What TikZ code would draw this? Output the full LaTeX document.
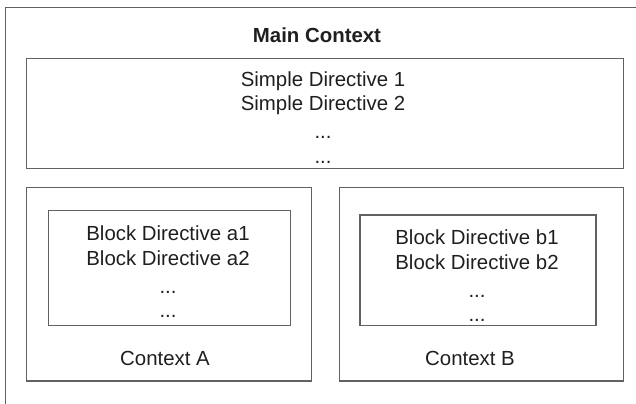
\documentclass[tikz,border=0pt]{standalone}
\usepackage{fontspec}
\setmainfont{Liberation Sans}

\begin{document}
\begin{tikzpicture}[x=0.5pt, y=-0.5pt,
    ctxbox/.style={draw=black!62, line width=0.65pt, inner sep=0pt},
    dirtext/.style={align=center, text=black!88, font=\fontsize{10.2}{12.25}\selectfont},
    ctxlabel/.style={text=black!88, font=\fontsize{10.2}{12.25}\selectfont}]
    \useasboundingbox (0,0) rectangle (636,403);
    \clip (0,0) rectangle (636,403);

    % outer frame, cut by the page edge
    \draw[ctxbox] (5.7,7.3) rectangle (660,430);
    \node[ctxlabel, font=\bfseries\fontsize{10.2}{12.25}\selectfont] (maintitle) at (317,35) {Main Context};

    % simple directives
    \node[ctxbox, minimum width=298.3pt, minimum height=55pt] (simple) at (325,113.3) {};
    \node[dirtext] (simpletext) at (323,117.4)
        {Simple Directive 1\\Simple Directive 2\\[1.75pt]...\\...};

    % the two contexts
    \node[ctxbox, minimum width=142.5pt, minimum height=96.9pt] (ctxA) at (169.2,284.2) {};
    \node[ctxbox, minimum width=142pt, minimum height=96.9pt] (ctxB) at (481.3,284.2) {};

    \node[ctxbox, minimum width=121.2pt, minimum height=57.4pt] (blockA) at (169.5,268.1) {};
    \node[dirtext] (blockAtext) at (168,271.9)
        {Block Directive a1\\Block Directive a2\\[1.75pt]...\\...};
    \node[ctxbox, minimum width=118pt, minimum height=55.3pt] (blockB) at (478,270.3) {};
    \node[dirtext] (blockBtext) at (477,276)
        {Block Directive b1\\Block Directive b2\\[1.75pt]...\\...};

    \node[ctxlabel] (labelA) at (165,358.3) {Context A};
    \node[ctxlabel] (labelB) at (470,358.3) {Context B};
\end{tikzpicture}
\end{document}
